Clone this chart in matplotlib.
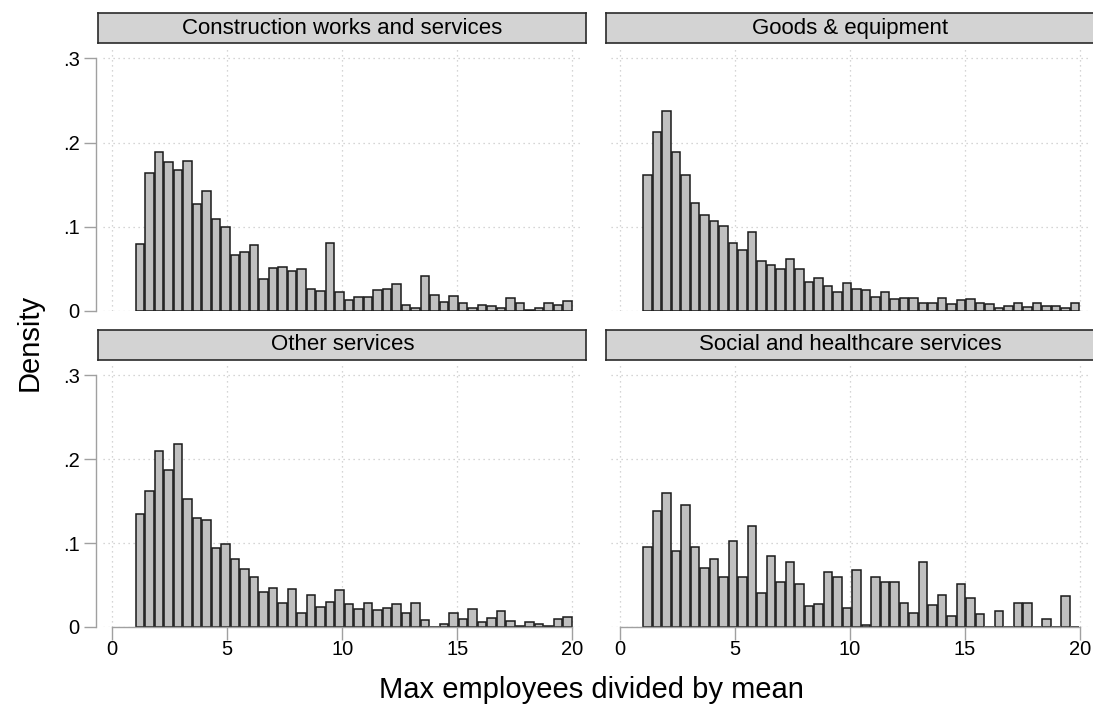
import numpy as np
import matplotlib
matplotlib.use("Agg")
import matplotlib.pyplot as plt

plt.rcParams["font.family"] = ["Liberation Sans", "DejaVu Sans"]

# Histogram of max employees / mean by contract type (46 common bins from 1 to 20)
BIN_MIN = 1.0
BIN_MAX = 20.0
N_BINS = 46

panel_titles = [
    "Construction works and services",
    "Goods & equipment",
    "Other services",
    "Social and healthcare services",
]

density_construction = [
    0.080, 0.164, 0.189, 0.177, 0.167, 0.178, 0.127, 0.143, 0.109, 0.100,
    0.067, 0.070, 0.078, 0.038, 0.051, 0.052, 0.048, 0.050, 0.026, 0.024,
    0.081, 0.022, 0.013, 0.017, 0.017, 0.025, 0.026, 0.032, 0.007, 0.003,
    0.042, 0.019, 0.011, 0.018, 0.010, 0.003, 0.007, 0.006, 0.004, 0.015,
    0.010, 0.001, 0.004, 0.009, 0.007, 0.012,
]
density_goods = [
    0.161, 0.212, 0.238, 0.189, 0.162, 0.128, 0.114, 0.107, 0.101, 0.081,
    0.073, 0.094, 0.059, 0.055, 0.050, 0.062, 0.050, 0.034, 0.039, 0.030,
    0.022, 0.033, 0.026, 0.025, 0.017, 0.022, 0.014, 0.016, 0.016, 0.010,
    0.009, 0.015, 0.008, 0.013, 0.014, 0.010, 0.008, 0.004, 0.006, 0.009,
    0.005, 0.010, 0.006, 0.006, 0.003, 0.010,
]
density_other = [
    0.134, 0.162, 0.210, 0.187, 0.218, 0.153, 0.130, 0.127, 0.094, 0.099,
    0.081, 0.069, 0.060, 0.042, 0.047, 0.028, 0.045, 0.017, 0.038, 0.024,
    0.030, 0.044, 0.027, 0.021, 0.028, 0.020, 0.023, 0.027, 0.017, 0.028,
    0.008, 0.000, 0.003, 0.017, 0.010, 0.022, 0.006, 0.011, 0.019, 0.007,
    0.001, 0.006, 0.003, 0.001, 0.009, 0.012,
]
density_social = [
    0.095, 0.138, 0.159, 0.091, 0.145, 0.095, 0.070, 0.081, 0.059, 0.103,
    0.060, 0.120, 0.041, 0.084, 0.053, 0.078, 0.051, 0.025, 0.027, 0.066,
    0.059, 0.023, 0.068, 0.002, 0.060, 0.054, 0.054, 0.029, 0.017, 0.078,
    0.026, 0.038, 0.013, 0.051, 0.035, 0.015, 0.000, 0.019, 0.000, 0.029,
    0.028, 0.000, 0.010, 0.000, 0.037, 0.000,
]
panel_densities = [density_construction, density_goods, density_other, density_social]

x_ticks = [0, 5, 10, 15, 20]
x_ticklabels = ["0", "5", "10", "15", "20"]
y_ticks = [0, 0.1, 0.2, 0.3]
y_ticklabels = ["0", ".1", ".2", ".3"]

W_PX, H_PX = 1093, 706
fig = plt.figure(figsize=(W_PX / 100, H_PX / 100), dpi=100)
fig.patch.set_facecolor("white")

edges = np.linspace(BIN_MIN, BIN_MAX, N_BINS + 1)
bin_w = edges[1] - edges[0]
centers = (edges[:-1] + edges[1:]) / 2

px_per_unit = 23.0
col_left = [103.3, 611.0]        # pixel x of plot region left edge
row_top = [46.7, 363.4]          # pixel y of plot region top edge
row_bottom = [311.0, 627.0]      # pixel y of plot region bottom (y = 0)
x_pad = 0.39
plot_w = (20 + 2 * x_pad) * px_per_unit

grid_kw = dict(color="#c8c8c8", linestyle=(0, (1, 3)), linewidth=0.9, zorder=0)
axis_grey = "#a0a0a0"
tick_fs = 14.5

for i, (title, dens) in enumerate(zip(panel_titles, panel_densities)):
    r, c = divmod(i, 2)
    left = col_left[c]
    top = row_top[r]
    bottom = row_bottom[r]
    h = bottom - top
    ax = fig.add_axes([left / W_PX, 1 - bottom / H_PX, plot_w / W_PX, h / H_PX])
    ax.set_xlim(-x_pad, 20 + x_pad)
    y_span = 0.3 * h / (bottom - (top + 11.7))
    ax.set_ylim(0, y_span)

    for xv in x_ticks:
        ax.axvline(xv, **grid_kw)
    for yv in y_ticks:
        ax.axhline(yv, **grid_kw)

    ax.bar(centers, dens, width=bin_w * 0.9, color="#c0c0c0",
           edgecolor="#1a1a1a", linewidth=1.1, zorder=2)

    for s in ["top", "right"]:
        ax.spines[s].set_visible(False)

    if c == 0:
        ax.spines["left"].set_position(("outward", 5))
        ax.spines["left"].set_bounds(0, 0.3)
        ax.spines["left"].set_color(axis_grey)
        ax.spines["left"].set_linewidth(1.0)
        ax.set_yticks(y_ticks)
        ax.set_yticklabels(y_ticklabels)
        ax.tick_params(axis="y", length=9, width=1.0, color=axis_grey,
                       labelsize=tick_fs, pad=3)
    else:
        ax.spines["left"].set_visible(False)
        ax.set_yticks([])

    if r == 1:
        ax.spines["bottom"].set_bounds(0, 20)
        ax.spines["bottom"].set_color(axis_grey)
        ax.spines["bottom"].set_linewidth(1.0)
        ax.set_xticks(x_ticks)
        ax.set_xticklabels(x_ticklabels)
        ax.tick_params(axis="x", length=9, width=1.0, color=axis_grey,
                       labelsize=tick_fs, pad=0.5)
    else:
        ax.spines["bottom"].set_visible(False)
        ax.set_xticks([])

    # Title strip above each panel
    strip_left = left + x_pad * px_per_unit - 0.61 * px_per_unit
    strip_w = 21.22 * px_per_unit
    strip_top = top - 33.4
    strip_h = 30.0
    sax = fig.add_axes([strip_left / W_PX, 1 - (strip_top + strip_h) / H_PX,
                        strip_w / W_PX, strip_h / H_PX])
    sax.set_facecolor("#d3d3d3")
    sax.set_xticks([])
    sax.set_yticks([])
    for sp in sax.spines.values():
        sp.set_color("#2a2a2a")
        sp.set_linewidth(1.2)
    sax.text(0.5, 0.5, title, ha="center", va="center", fontsize=16,
             transform=sax.transAxes)

fig.text(30 / W_PX, 1 - 342 / H_PX, "Density", rotation=90, ha="center",
         va="center", fontsize=21)
fig.text(591 / W_PX, 1 - 690 / H_PX, "Max employees divided by mean",
         ha="center", va="center", fontsize=21)

fig.savefig("out.png", dpi=100, facecolor="white")
